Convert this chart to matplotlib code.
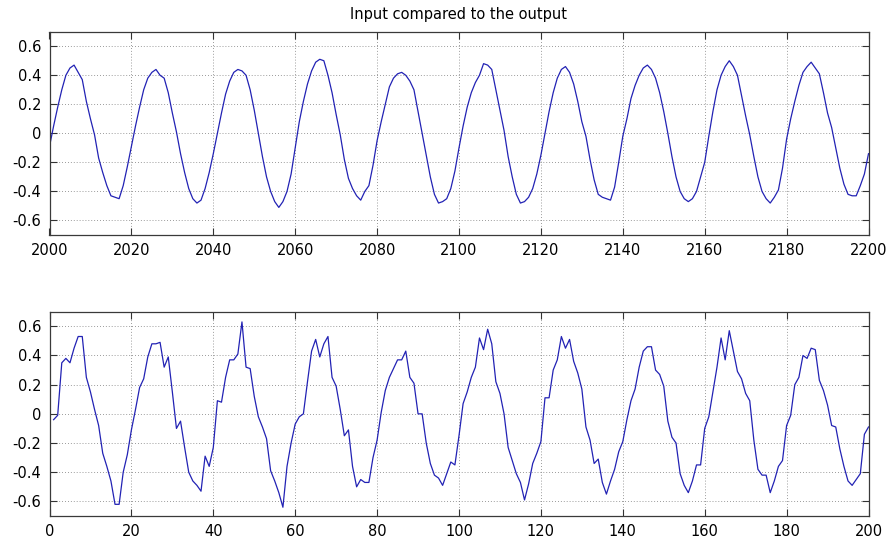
import matplotlib
matplotlib.use("Agg")
import matplotlib.pyplot as plt
import numpy as np

title = "Input compared to the output"

# Top panel (output), samples 2000..2200
top_start = 2000
top_values = [
    -0.09, 0.05, 0.18, 0.30, 0.40, 0.45, 0.47, 0.42, 0.37, 0.22,
    0.10, -0.01, -0.17, -0.27, -0.36, -0.43, -0.44, -0.45, -0.36, -0.23,
    -0.09, 0.05, 0.18, 0.30, 0.38, 0.42, 0.44, 0.40, 0.38, 0.28,
    0.14, 0.01, -0.14, -0.27, -0.38, -0.45, -0.48, -0.46, -0.38, -0.27,
    -0.14, 0.00, 0.14, 0.27, 0.36, 0.42, 0.44, 0.43, 0.40, 0.30,
    0.16, 0.00, -0.16, -0.30, -0.40, -0.47, -0.51, -0.47, -0.40, -0.28,
    -0.10, 0.08, 0.22, 0.34, 0.43, 0.49, 0.51, 0.50, 0.40, 0.28,
    0.13, -0.01, -0.18, -0.31, -0.38, -0.43, -0.46, -0.40, -0.36, -0.22,
    -0.05, 0.08, 0.20, 0.32, 0.38, 0.41, 0.42, 0.40, 0.36, 0.30,
    0.15, 0.00, -0.15, -0.30, -0.42, -0.48, -0.47, -0.45, -0.38, -0.26,
    -0.10, 0.05, 0.18, 0.28, 0.35, 0.40, 0.48, 0.47, 0.44, 0.30,
    0.16, 0.02, -0.16, -0.30, -0.42, -0.48, -0.47, -0.44, -0.38, -0.28,
    -0.15, 0.00, 0.15, 0.28, 0.38, 0.44, 0.46, 0.42, 0.34, 0.22,
    0.08, -0.02, -0.18, -0.32, -0.42, -0.44, -0.45, -0.46, -0.37, -0.20,
    -0.02, 0.10, 0.24, 0.33, 0.40, 0.45, 0.47, 0.44, 0.38, 0.28,
    0.15, 0.00, -0.16, -0.30, -0.40, -0.45, -0.47, -0.45, -0.40, -0.30,
    -0.20, -0.02, 0.15, 0.30, 0.40, 0.46, 0.50, 0.46, 0.40, 0.26,
    0.12, -0.01, -0.16, -0.30, -0.40, -0.45, -0.48, -0.44, -0.39, -0.24,
    -0.04, 0.10, 0.22, 0.33, 0.42, 0.46, 0.49, 0.45, 0.41, 0.28,
    0.14, 0.04, -0.10, -0.24, -0.35, -0.42, -0.43, -0.43, -0.36, -0.28,
    -0.14,
]

# Bottom panel (input), samples 1..200
bottom_start = 1
bottom_values = [
    -0.04, -0.01, 0.35, 0.38, 0.35, 0.45, 0.53, 0.53, 0.25, 0.15,
    0.03, -0.08, -0.27, -0.36, -0.46, -0.62, -0.62, -0.40, -0.28, -0.11,
    0.03, 0.18, 0.24, 0.39, 0.48, 0.48, 0.49, 0.32, 0.39, 0.15,
    -0.10, -0.05, -0.23, -0.40, -0.46, -0.49, -0.53, -0.29, -0.36, -0.23,
    0.09, 0.08, 0.25, 0.37, 0.37, 0.41, 0.63, 0.32, 0.31, 0.12,
    -0.02, -0.09, -0.17, -0.39, -0.46, -0.54, -0.64, -0.36, -0.20, -0.07,
    -0.02, 0.00, 0.22, 0.43, 0.51, 0.39, 0.48, 0.53, 0.25, 0.19,
    0.03, -0.15, -0.11, -0.36, -0.50, -0.45, -0.47, -0.47, -0.30, -0.18,
    0.01, 0.16, 0.25, 0.31, 0.37, 0.37, 0.43, 0.25, 0.21, 0.00,
    0.00, -0.20, -0.34, -0.42, -0.44, -0.49, -0.41, -0.33, -0.35, -0.15,
    0.07, 0.15, 0.25, 0.32, 0.52, 0.44, 0.58, 0.48, 0.22, 0.14,
    0.00, -0.23, -0.32, -0.41, -0.47, -0.59, -0.48, -0.34, -0.27, -0.19,
    0.11, 0.11, 0.30, 0.37, 0.53, 0.45, 0.51, 0.36, 0.28, 0.17,
    -0.09, -0.18, -0.34, -0.31, -0.47, -0.55, -0.46, -0.38, -0.26, -0.19,
    -0.04, 0.09, 0.17, 0.32, 0.43, 0.46, 0.46, 0.30, 0.27, 0.19,
    -0.05, -0.16, -0.20, -0.41, -0.49, -0.54, -0.46, -0.35, -0.35, -0.10,
    -0.02, 0.15, 0.32, 0.52, 0.37, 0.57, 0.43, 0.29, 0.24, 0.14,
    0.09, -0.18, -0.38, -0.42, -0.42, -0.54, -0.46, -0.36, -0.32, -0.08,
    -0.01, 0.20, 0.25, 0.40, 0.38, 0.45, 0.44, 0.23, 0.16, 0.06,
    -0.08, -0.09, -0.24, -0.36, -0.46, -0.49, -0.45, -0.41, -0.14, -0.09,
]

y_ticks = [-0.6, -0.4, -0.2, 0, 0.2, 0.4, 0.6]
y_ticklabels = ["-0.6", "-0.4", "-0.2", "0", "0.2", "0.4", "0.6"]
top_xticks = [2000, 2020, 2040, 2060, 2080, 2100, 2120, 2140, 2160, 2180, 2200]
bottom_xticks = [0, 20, 40, 60, 80, 100, 120, 140, 160, 180, 200]

plt.rcParams["font.family"] = ["DejaVu Sans"]

fig = plt.figure(figsize=(8.94, 5.42), dpi=100)
W, H = 894, 542

def make_axes(left, top, right, bottom):
    return fig.add_axes([left / W, 1 - bottom / H, (right - left) / W, (bottom - top) / H])

ax1 = make_axes(49.5, 31.7, 868.5, 235)
ax2 = make_axes(49.5, 311.7, 868.5, 516)

line_color = "#2222b4"

x_top = top_start + np.arange(len(top_values))
ax1.plot(x_top, top_values, color=line_color, lw=0.9)
ax1.set_xlim(2000, 2200)
ax1.set_xticks(top_xticks)
ax1.set_title(title, fontsize=10.5, pad=9)

x_bot = bottom_start + np.arange(len(bottom_values))
ax2.plot(x_bot, bottom_values, color=line_color, lw=0.9)
ax2.set_xlim(0, 200)
ax2.set_xticks(bottom_xticks)

for ax in (ax1, ax2):
    ax.set_ylim(-0.7, 0.7)
    ax.set_yticks(y_ticks)
    ax.set_yticklabels(y_ticklabels)
    ax.grid(True, linestyle=(0, (1, 2.5)), color="#7a7a7a", linewidth=0.6)
    ax.tick_params(direction="in", length=5, width=0.8, top=True, right=True,
                   labelsize=10.5, colors="#333333", labelcolor="black", pad=6)
    for sp in ax.spines.values():
        sp.set_color("#3a3a3a")
        sp.set_linewidth(0.9)

fig.savefig("out.png", dpi=100)
